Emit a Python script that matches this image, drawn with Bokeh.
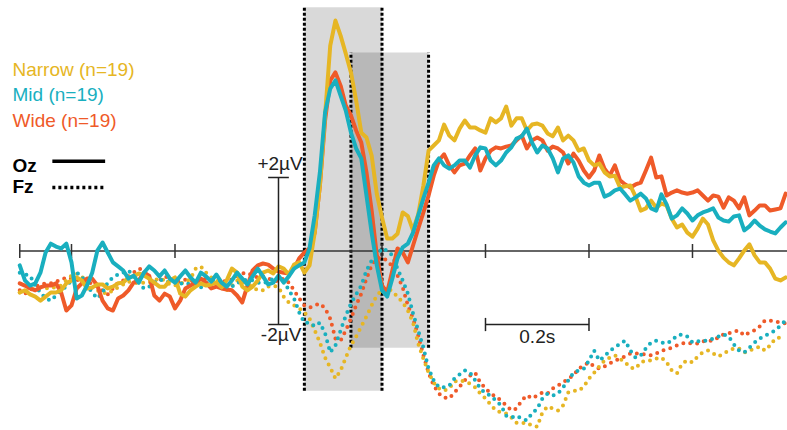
import numpy as np
from bokeh.plotting import figure
from bokeh.models import Range1d, Label
from bokeh.embed import file_html
from bokeh.resources import INLINE

# ---------------- data (µV, sampled every 10 ms from -0.50 s) ----------------
time = np.round(np.arange(-0.50, 0.985, 0.01), 2)

narrow_oz = [
    -1.13, -1.07, -1.18, -1.24, -1.35, -1.24, -1.13, -1.13, -1.07, -0.88,
    -0.80, -0.72, -0.80, -1.02, -0.99, -0.91, -0.91, -1.02, -0.97, -0.88,
    -0.86, -0.72, -0.69, -0.61, -0.67, -0.75, -0.86, -0.97, -0.97, -0.80,
    -0.72, -1.16, -1.24, -1.07, -0.97, -0.88, -0.94, -0.91, -0.86, -0.99,
    -0.80, -0.48, -0.59, -0.97, -1.07, -0.97, -0.80, -0.59, -0.53, -0.61,
    -0.42, -0.48, -0.64, -0.37, -0.31, -0.59, -0.39, 0.50, 1.78, 3.69,
    5.59, 6.27, 5.86, 5.37, 4.86, 4.10, 3.22, 3.09, 2.60, 1.55,
    0.91, 0.34, 0.34, 0.47, 1.05, 0.95, 0.56, 1.00, 1.78, 2.73,
    2.87, 3.01, 3.44, 3.14, 3.01, 3.33, 3.55, 3.36, 3.36, 3.28,
    3.22, 3.61, 3.50, 3.61, 3.93, 3.41, 3.61, 3.61, 3.28, 3.44,
    3.47, 3.41, 3.20, 3.12, 3.36, 3.01, 3.14, 3.01, 2.73, 2.79,
    2.46, 2.33, 2.38, 2.14, 2.03, 2.05, 1.73, 1.76, 1.78, 1.48,
    1.10, 1.16, 1.37, 1.18, 1.29, 1.24, 0.88, 0.64, 0.72, 0.50,
    0.39, 0.61, 0.88, 0.72, 0.29, 0.01, -0.18, -0.31, -0.39, -0.20,
    0.01, 0.18, -0.12, -0.31, -0.31, -0.48, -0.75, -0.80, -0.72]

mid_oz = [
    -0.39, -0.80, -0.94, -0.88, -0.59, -0.04, 0.20, 0.12, 0.07, 0.20,
    -0.31, -1.29, -1.21, -0.94, -0.59, 0.01, 0.23, -0.04, -0.31, -0.42,
    -0.53, -0.75, -0.67, -0.86, -0.59, -0.42, -0.53, -0.69, -0.53, -0.75,
    -0.86, -0.69, -0.53, -0.72, -0.86, -0.59, -0.69, -0.83, -0.64, -0.86,
    -0.97, -0.80, -0.59, -0.75, -0.91, -0.69, -0.48, -0.69, -0.91, -0.86,
    -0.67, -0.86, -0.69, -0.48, -0.39, -0.31, 0.07, 0.97, 2.14, 3.77,
    4.42, 4.64, 4.23, 3.82, 3.22, 2.79, 2.52, 1.51, 0.50, -0.39,
    -1.07, -1.24, -0.75, -0.20, 0.10, 0.20, 0.50, 0.97, 1.43, 1.86,
    2.33, 2.52, 2.33, 2.24, 2.33, 2.46, 2.46, 2.27, 2.60, 2.82,
    2.79, 2.46, 2.33, 2.46, 2.68, 2.82, 3.06, 3.12, 3.33, 2.95,
    2.68, 2.87, 2.79, 2.52, 2.14, 2.52, 2.60, 2.41, 2.03, 1.86,
    1.78, 1.86, 1.86, 1.48, 1.54, 1.65, 1.70, 1.54, 1.37, 1.46,
    1.56, 1.43, 1.16, 1.10, 1.54, 1.27, 0.88, 0.97, 1.16, 1.02,
    0.83, 0.97, 1.05, 1.10, 1.16, 0.91, 0.83, 0.80, 0.94, 0.97,
    0.56, 0.67, 0.83, 0.69, 0.59, 0.53, 0.48, 0.64, 0.78]

wide_oz = [
    -0.88, -0.94, -1.02, -1.07, -0.99, -0.94, -0.94, -0.88, -1.13, -1.62,
    -1.48, -1.02, -0.88, -0.75, -0.75, -0.94, -1.35, -1.56, -1.62, -1.29,
    -1.21, -1.07, -0.86, -0.80, -0.59, -0.67, -1.21, -1.35, -1.16, -1.24,
    -1.56, -1.35, -1.02, -0.94, -0.86, -0.75, -0.86, -1.02, -0.97, -1.02,
    -1.05, -1.07, -1.21, -1.40, -0.94, -0.53, -0.39, -0.34, -0.37, -0.48,
    -0.56, -0.59, -0.61, -0.48, -0.20, -0.04, 0.07, 0.50, 1.78, 3.55,
    4.64, 4.86, 4.50, 3.96, 3.69, 3.28, 2.95, 2.14, 1.10, -0.12,
    -0.94, -1.13, -0.53, 0.07, -0.04, -0.31, 0.15, 0.61, 1.05, 1.51,
    2.05, 2.46, 2.63, 2.33, 2.14, 2.33, 2.38, 2.60, 2.79, 2.19,
    2.52, 2.73, 2.82, 2.79, 2.84, 2.87, 3.01, 3.14, 2.79, 3.01,
    3.09, 3.01, 2.73, 2.84, 2.79, 2.68, 2.38, 2.65, 2.46, 2.19,
    2.00, 2.19, 2.60, 2.24, 2.05, 2.33, 1.92, 1.81, 1.73, 1.81,
    1.86, 2.19, 2.54, 2.00, 2.03, 1.51, 1.59, 1.65, 1.59, 1.56,
    1.59, 1.65, 1.51, 1.37, 1.51, 1.48, 1.18, 1.46, 1.37, 1.16,
    1.46, 0.97, 1.10, 1.24, 1.24, 1.10, 1.13, 1.16, 1.56]

narrow_fz = [
    -1.13, -1.10, -1.07, -1.02, -0.99, -1.02, -0.99, -0.99, -0.94, -0.80,
    -0.67, -0.61, -0.69, -0.91, -1.02, -1.07, -1.13, -1.16, -1.07, -0.99,
    -0.91, -0.83, -0.86, -0.88, -0.86, -0.86, -0.80, -0.75, -0.80, -0.91,
    -0.94, -0.88, -0.86, -0.75, -0.48, -0.42, -0.59, -0.72, -0.80, -0.88,
    -1.07, -0.94, -0.80, -0.83, -0.91, -0.97, -1.07, -1.07, -0.97, -0.94,
    -0.99, -1.24, -1.40, -1.48, -1.56, -1.67, -1.84, -2.16, -2.49, -2.90,
    -3.17, -3.47, -3.25, -2.90, -2.57, -2.33, -2.05, -1.78, -1.48, -1.21,
    -1.07, -0.99, -1.10, -1.24, -1.40, -1.62, -1.95, -2.52, -2.93, -3.31,
    -3.58, -3.74, -3.80, -3.74, -3.55, -3.52, -3.55, -3.61, -3.71, -3.88,
    -4.01, -4.18, -4.34, -4.39, -4.42, -4.53, -4.67, -4.69, -4.67, -4.75,
    -4.78, -4.39, -4.23, -4.29, -4.34, -4.20, -3.85, -3.80, -3.80, -3.69,
    -3.47, -3.31, -3.14, -2.98, -2.90, -2.84, -2.93, -3.03, -3.17, -3.20,
    -3.03, -2.98, -2.98, -2.93, -2.90, -3.03, -3.25, -3.33, -3.06, -2.98,
    -3.03, -2.87, -2.76, -2.71, -2.79, -2.87, -2.79, -2.71, -2.65, -2.65,
    -2.76, -2.71, -2.65, -2.60, -2.71, -2.57, -2.38, -2.35, -2.38]

mid_fz = [
    -0.59, -0.64, -0.67, -0.94, -1.13, -1.29, -1.35, -1.21, -1.07, -0.97,
    -0.80, -0.59, -0.69, -0.94, -1.13, -1.29, -1.13, -0.86, -0.72, -0.64,
    -0.59, -0.53, -0.67, -0.86, -1.02, -0.97, -0.86, -0.78, -0.80, -0.86,
    -0.83, -0.88, -0.91, -0.88, -0.97, -0.99, -0.88, -0.80, -0.83, -0.88,
    -0.94, -0.97, -0.88, -0.80, -0.78, -0.80, -0.86, -0.88, -0.83, -0.75,
    -0.72, -0.80, -1.07, -1.29, -1.67, -1.95, -1.95, -2.05, -1.95, -2.24,
    -2.76, -2.57, -2.16, -1.76, -1.43, -1.18, -0.94, -0.53, -0.26, -0.10,
    0.07, 0.01, -0.12, -0.48, -0.80, -1.16, -1.70, -2.16, -2.63, -3.20,
    -3.52, -3.71, -3.71, -3.66, -3.47, -3.36, -3.25, -3.31, -3.52, -3.74,
    -3.88, -3.93, -4.07, -4.20, -4.48, -4.53, -4.48, -4.56, -4.61, -4.42,
    -4.29, -4.01, -3.88, -3.93, -3.88, -3.71, -3.52, -3.31, -3.25, -3.20,
    -2.98, -2.71, -2.98, -2.87, -2.71, -2.63, -2.52, -2.44, -2.71, -2.90,
    -2.84, -2.65, -2.49, -2.44, -2.49, -2.52, -2.44, -2.30, -2.27, -2.33,
    -2.49, -2.46, -2.44, -2.44, -2.38, -2.33, -2.27, -2.33, -2.54, -2.71,
    -2.76, -2.63, -2.49, -2.38, -2.30, -2.24, -2.16, -2.03, -1.89]

wide_fz = [
    -1.07, -1.16, -1.07, -0.97, -0.91, -0.88, -0.88, -0.83, -0.78, -0.72,
    -0.75, -0.78, -0.83, -0.80, -0.91, -0.97, -1.07, -1.18, -1.02, -0.86,
    -0.80, -0.69, -0.59, -0.48, -0.53, -0.75, -0.88, -0.80, -0.69, -0.75,
    -0.86, -0.83, -0.78, -0.80, -0.86, -0.80, -0.75, -0.80, -0.88, -0.86,
    -0.80, -0.78, -0.69, -0.61, -0.59, -0.67, -0.72, -0.69, -0.75, -0.80,
    -0.83, -0.75, -0.86, -1.07, -1.29, -1.48, -1.54, -1.48, -1.43, -1.56,
    -1.84, -2.38, -2.44, -2.16, -1.84, -1.48, -1.16, -0.75, -0.39, -0.20,
    -0.18, -0.26, -0.42, -0.67, -0.99, -1.48, -1.84, -2.30, -2.84, -3.31,
    -3.66, -3.88, -3.99, -4.01, -3.85, -3.69, -3.52, -3.39, -3.31, -3.58,
    -3.74, -3.88, -3.96, -4.07, -4.20, -4.34, -4.29, -4.07, -3.93, -4.01,
    -3.93, -3.85, -3.88, -3.74, -3.66, -3.58, -3.47, -3.39, -3.20, -3.12,
    -3.03, -3.14, -3.20, -3.14, -3.06, -2.98, -2.93, -2.87, -2.79, -2.79,
    -2.79, -2.82, -2.84, -2.79, -2.71, -2.68, -2.63, -2.57, -2.52, -2.49,
    -2.52, -2.52, -2.46, -2.44, -2.44, -2.35, -2.27, -2.24, -2.19, -2.16,
    -2.30, -2.22, -2.16, -2.05, -1.89, -1.89, -1.92, -1.95, -1.97]

conditions = ["Narrow (n=19)", "Mid (n=19)", "Wide (n=19)"]
# analysis windows: (start s, end s, bottom µV, top µV)
windows = [(0.05, 0.20, -3.80, 6.63), (0.14, 0.29, -2.63, 5.40)]
time_ticks = [-0.5, -0.4, -0.2, 0.2, 0.4, 0.6, 0.8]

# ---------------- style ----------------
YELLOW = "#E6B624"
TEAL = "#19AFBF"
ORANGE = "#EF5A29"
FONT = "Liberation Sans"
TXT = "#222222"

p = figure(width=787, height=430,
           x_range=Range1d(-0.5372, 0.9836), y_range=Range1d(-4.884, 6.816),
           output_backend="svg", toolbar_location=None, min_border=0)
p.axis.visible = False
p.grid.visible = False
p.outline_line_color = None
p.background_fill_color = "white"
p.border_fill_color = "white"

# shaded windows
for (x0, x1, b, t) in windows:
    p.quad(left=[x0], right=[x1], bottom=[b], top=[t],
           fill_color="black", fill_alpha=0.15, line_color=None)
for (x0, x1, b, t) in windows:
    p.segment(x0=[x0, x1], y0=[b, b], x1=[x0, x1], y1=[t, t],
              line_color="black", line_width=3, line_dash="3 2")

# time axis at 0 µV
p.line([-0.5, 1.0], [0, 0], line_color="#333333", line_width=1.5)
tk = 0.19
p.segment(x0=time_ticks, y0=[-tk] * len(time_ticks), x1=time_ticks,
          y1=[tk] * len(time_ticks), line_color="#333333", line_width=1.5)

# data
series = [(wide_fz, ORANGE), (narrow_fz, YELLOW), (mid_fz, TEAL)]
for vals, col in series:
    p.line(time, vals, line_color=col, line_width=4, line_dash="0 7",
           line_cap="round")
series = [(wide_oz, ORANGE), (narrow_oz, YELLOW), (mid_oz, TEAL)]
for vals, col in series:
    p.line(time, vals, line_color=col, line_width=4, line_join="round",
           line_cap="round")

# vertical scale bar (+/-2 µV at t=0)
p.segment(x0=[0, -0.02, -0.02], y0=[-2, 2, -2], x1=[0, 0.02, 0.02],
          y1=[2, 2, -2], line_color=TXT, line_width=1.5)
p.add_layout(Label(x=0.003, y=2.39, text="+2µV", text_align="center",
                   text_baseline="alphabetic", text_font=FONT,
                   text_font_size="19px", text_color=TXT))
p.add_layout(Label(x=0.005, y=-2.27, text="-2µV", text_align="center",
                   text_baseline="alphabetic", text_font=FONT,
                   text_font_size="19px", text_color=TXT))

# horizontal scale bar (0.2 s)
p.segment(x0=[0.4, 0.4, 0.6], y0=[-2, -2.18, -2.18], x1=[0.6, 0.4, 0.6],
          y1=[-2, -1.82, -1.82], line_color=TXT, line_width=1.5)
p.add_layout(Label(x=0.5, y=-2.33, text="0.2s", text_align="center",
                   text_baseline="alphabetic", text_font=FONT,
                   text_font_size="19px", text_color=TXT))

# legend
for txt, col, yy in zip(conditions, [YELLOW, TEAL, ORANGE], [4.94, 4.25, 3.56]):
    p.add_layout(Label(x=-0.514, y=yy, text=txt, text_align="left",
                       text_baseline="alphabetic", text_font=FONT,
                       text_font_size="19px", text_color=col))
p.add_layout(Label(x=-0.514, y=2.33, text="Oz", text_font=FONT,
                   text_font_size="19px", text_font_style="bold",
                   text_baseline="alphabetic", text_color="black"))
p.add_layout(Label(x=-0.514, y=1.75, text="Fz", text_font=FONT,
                   text_font_size="19px", text_font_style="bold",
                   text_baseline="alphabetic", text_color="black"))
p.line([-0.437, -0.335], [2.44, 2.44], line_color="black", line_width=3.5)
p.line([-0.437, -0.333], [1.73, 1.73], line_color="black", line_width=3.5,
       line_dash="3 3")

open("out.html", "w").write(file_html(p, INLINE))
